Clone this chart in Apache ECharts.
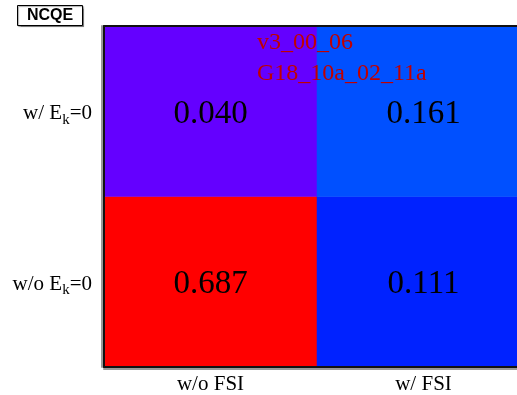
<!DOCTYPE html>
<html>
<head>
<meta charset="utf-8">
<script src="https://cdn.jsdelivr.net/npm/echarts@6/dist/echarts.min.js"></script>
<style>html,body{margin:0;padding:0;background:#fff;overflow:hidden;width:517px;height:395px}#c{width:530px;height:395px}</style>
</head>
<body>
<div id="c"></div>
<script>
// ---- data ----
var xLabels = ['w/o FSI', 'w/ FSI'];
var yLabels = ['w/o E_k=0', 'w/ E_k=0'];          // bottom row first
var valuesWithoutEk = [0.687, 0.111];             // row "w/o E_k=0", by xLabels
var valuesWithEk = [0.040, 0.161];                // row "w/ E_k=0", by xLabels
var titleText = 'NCQE';
var versionLines = ['v3_00_06', 'G18_10a_02_11a'];

// ---- palette (ROOT-like rainbow) ----
var paletteStops = [[0.040,'#6400ff'],[0.111,'#0022ff'],[0.161,'#0050ff'],[0.30,'#00c8ff'],[0.42,'#00ff40'],[0.55,'#ffee00'],[0.687,'#ff0000']];
function hex(c){return [parseInt(c.substr(1,2),16),parseInt(c.substr(3,2),16),parseInt(c.substr(5,2),16)];}
function colorAt(v){
  for (var i=0;i<paletteStops.length-1;i++){
    var a=paletteStops[i], b=paletteStops[i+1];
    if (v<=b[0]){
      var t=(v-a[0])/(b[0]-a[0]); t=Math.max(0,Math.min(1,t));
      var ca=hex(a[1]), cb=hex(b[1]);
      return 'rgb('+[0,1,2].map(function(k){return Math.round(ca[k]+(cb[k]-ca[k])*t);}).join(',')+')';
    }
  }
  return paletteStops[paletteStops.length-1][1];
}
var vmin = paletteStops[0][0], vmax = paletteStops[paletteStops.length-1][0];
var sampled = [];
for (var i=0;i<=300;i++){ sampled.push(colorAt(vmin+(vmax-vmin)*i/300)); }

var data = [];
xLabels.forEach(function(_, xi){
  data.push([xi, 0, valuesWithoutEk[xi]]);
  data.push([xi, 1, valuesWithEk[xi]]);
});

var serif = '"Liberation Serif", "DejaVu Serif", serif';
var chart = echarts.init(document.getElementById('c'), null, {renderer:'canvas'});
chart.setOption({
  animation: false,
  backgroundColor: '#fff',
  title: [{
    text: titleText, left: 17, top: 5,
    padding: [2, 10, 2, 10],
    borderColor: '#000', borderWidth: 1,
    shadowColor: 'rgba(0,0,0,0.35)', shadowOffsetX: 1, shadowOffsetY: 1, shadowBlur: 1,
    backgroundColor: '#fff',
    textStyle: {fontFamily: '"Liberation Sans", Arial, sans-serif', fontWeight: 'bold', fontSize: 16, color: '#000', lineHeight: 17}
  },{
    text: versionLines.join('\n'), left: 257, top: 27, padding: 0,
    textStyle: {fontFamily: serif, fontWeight: 'normal', fontSize: 24, lineHeight: 31, color: '#c00000'}
  }],
  grid: {left: 104, top: 26, right: 0, height: 342, containLabel: false},
  xAxis: [{
    type: 'category', data: xLabels, position: 'bottom',
    axisLine: {lineStyle: {color: '#111', width: 2, shadowColor: '#999', shadowOffsetY: 2}},
    axisTick: {inside: true, length: 10, lineStyle: {color: '#111', width: 2}},
    axisLabel: {fontFamily: serif, fontSize: 21, color: '#000', margin: 7},
    splitLine: {show: false}, z: 10
  },{
    type: 'category', data: xLabels, position: 'top',
    axisLine: {lineStyle: {color: '#111', width: 2}},
    axisTick: {show: false}, axisLabel: {show: false}, z: 10
  }],
  yAxis: [{
    type: 'category', data: yLabels,
    axisLine: {lineStyle: {color: '#111', width: 2, shadowColor: '#999', shadowOffsetX: -2}},
    axisTick: {inside: true, length: 15, lineStyle: {color: '#111', width: 2}},
    axisLabel: {
      margin: 12, color: '#000', padding: [8, 0, 0, 0],
      formatter: function(v){ var p = v.split('_'); return '{a|' + p[0] + '}{s|' + p[1].charAt(0) + '}{a|' + p[1].substr(1) + '}'; },
      rich: {
        a: {fontFamily: serif, fontSize: 21, color: '#000', lineHeight: 24, verticalAlign: 'top'},
        s: {fontFamily: serif, fontSize: 15, color: '#000', lineHeight: 16, verticalAlign: 'bottom', padding: [13, 0, 0, 0]}
      }
    },
    splitLine: {show: false}, z: 10
  }],
  visualMap: {show: false, min: vmin, max: vmax, dimension: 2, inRange: {color: sampled}},
  series: [{
    type: 'heatmap', data: data,
    label: {show: true, fontFamily: serif, fontSize: 33, color: '#000', offset: [0, 3],
      formatter: function(p){ return p.value[2].toFixed(3); }},
    emphasis: {disabled: true},
    itemStyle: {borderWidth: 0}
  }]
});
</script>
</body>
</html>
